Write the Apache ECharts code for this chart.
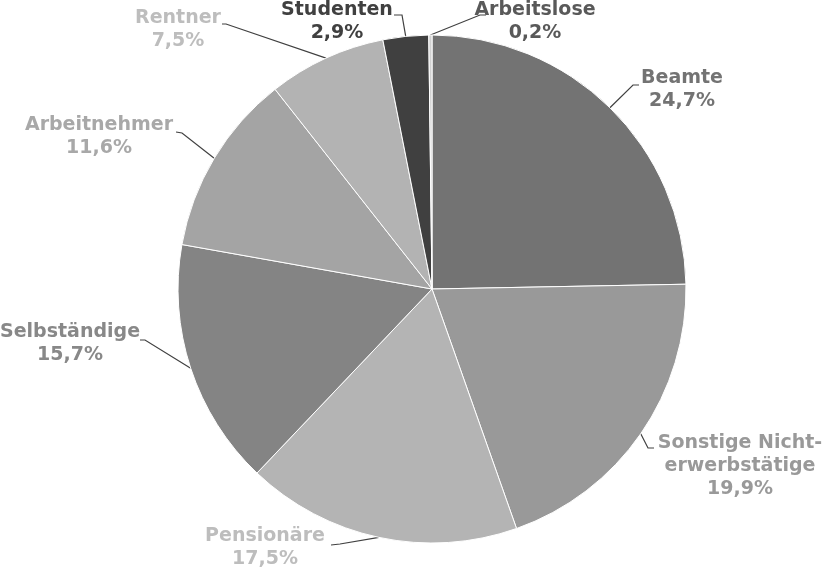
<!DOCTYPE html>
<html>
<head>
<meta charset="utf-8">
<script src="https://cdn.jsdelivr.net/npm/echarts@6/dist/echarts.min.js"></script>
<style>
html,body{margin:0;padding:0;background:#fff;}
#chart{width:824px;height:574px;}
</style>
</head>
<body>
<div id="chart"></div>
<script>
// ---- data ----
const categories = ['Beamte', 'Sonstige Nicht-\nerwerbstätige', 'Pensionäre', 'Selbständige', 'Arbeitnehmer', 'Rentner', 'Studenten', 'Arbeitslose'];
const shares = [24.7, 19.9, 17.5, 15.7, 11.6, 7.5, 2.9, 0.2];

// ---- styles ----
const sliceColors = ['#737373', '#999999', '#b4b4b4', '#848484', '#a4a4a4', '#b3b3b3', '#404040', '#d0d0d0'];
const labelColors = ['#737373', '#999999', '#bdbdbd', '#888888', '#a8a8a8', '#bdbdbd', '#404040', '#595959'];
// label layout: text centre, elbow, line end
const labelPos = [
  {x: 682, y: 90,  elbow: [633, 85],  end: [639, 85]},
  {x: 740, y: 466, elbow: [648, 448], end: [654, 448]},
  {x: 265, y: 548, elbow: [340, 544], end: [331, 545]},
  {x: 70,  y: 344, elbow: [145, 340], end: [140, 340]},
  {x: 99,  y: 137, elbow: [182, 133], end: [176, 132]},
  {x: 178, y: 30,  elbow: [226, 24],  end: [222, 24]},
  {x: 337, y: 22,  elbow: [402, 15],  end: [394, 15]},
  {x: 535, y: 22,  elbow: [480, 15],  end: [486, 15]}
];

const data = categories.map((c, i) => ({
  name: c,
  value: shares[i],
  itemStyle: {color: sliceColors[i]},
  label: {color: labelColors[i]}
}));

const chart = echarts.init(document.getElementById('chart'), null, {renderer: 'canvas'});
chart.setOption({
  animation: false,
  backgroundColor: '#ffffff',
  series: [{
    type: 'pie',
    center: [432, 289],
    radius: 254,
    startAngle: 90,
    clockwise: true,
    avoidLabelOverlap: false,
    minShowLabelAngle: 0,
    silent: true,
    itemStyle: {borderColor: '#ffffff', borderWidth: 1},
    label: {
      show: true,
      position: 'outside',
      fontFamily: 'DejaVu Sans',
      fontWeight: 'bold',
      fontSize: 19,
      lineHeight: 23,
      align: 'center',
      formatter: p => p.name + '\n' + p.value.toFixed(1).replace('.', ',') + '%'
    },
    labelLine: {show: true, length: 10, length2: 10, lineStyle: {color: '#404040', width: 1.2}},
    labelLayout: function (params) {
      const lp = labelPos[params.dataIndex];
      const start = params.labelLinePoints ? params.labelLinePoints[0] : lp.elbow;
      return {
        x: lp.x,
        y: lp.y,
        align: 'center',
        verticalAlign: 'middle',
        labelLinePoints: [start, lp.elbow, lp.end]
      };
    },
    data: data
  }]
});
</script>
</body>
</html>
